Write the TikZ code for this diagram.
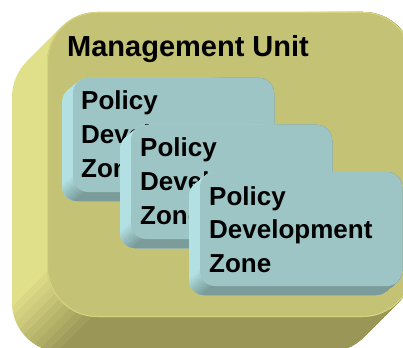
\documentclass[tikz,border=0pt]{standalone}
\usepackage{fontspec}
\setmainfont{Liberation Sans}
\definecolor{oliveF}{HTML}{C4C274}
\definecolor{oliveL}{HTML}{E1E08A}
\definecolor{oliveD}{HTML}{9A9657}
\definecolor{tealF}{HTML}{9DC5C5}
\definecolor{tealL}{HTML}{B3E1E3}
\definecolor{tealD}{HTML}{7B9C9B}
\tikzset{
  titletext/.style={anchor=base west, inner sep=0pt, font=\fontsize{29}{31}\selectfont\bfseries},
  zonetext/.style={anchor=base west, inner sep=0pt, font=\fontsize{26}{30}\selectfont\bfseries}
}
% #1 x1, #2 y1, #3 x2, #4 y2, #5 radius, #6 dx, #7 dy ; colours extL, extD, extF
\newcommand\sweepfill[8]{%
  \foreach \i in {0,...,20}{%
    \fill[#8, rounded corners=#5, shift={({\i/20*(#6)},{\i/20*(#7)})}] (#1,#2) rectangle (#3,#4);
  }%
}
\newcommand\extbox[7]{%
  \pgfmathsetmacro\ecx{#1+#5}%
  \pgfmathsetmacro\ecy{#4-#5}%
  \pgfmathsetmacro\dlen{sqrt((#6)*(#6)+(#7)*(#7))}%
  \pgfmathsetmacro\ux{(#6)/\dlen}%
  \pgfmathsetmacro\uy{(#7)/\dlen}%
  \pgfmathsetmacro\mx{\uy}%
  \pgfmathsetmacro\my{-\ux}%
  \pgfmathsetmacro\hw{0.7071*#5}%
  \sweepfill{#1}{#2}{#3}{#4}{#5}{#6}{#7}{extL}%
  \foreach \k in {1,...,10}{%
    \pgfmathsetmacro\s{-\hw+2*\hw*(\k-0.5)/10}%
    \pgfmathtruncatemacro\pc{\k*10}%
    \pgfmathsetmacro\qx{\ecx+\s*\mx}%
    \pgfmathsetmacro\qy{\ecy+\s*\my}%
    \begin{scope}
      \clip ({\qx+1500*\ux},{\qy+1500*\uy}) -- ({\qx-1500*\ux},{\qy-1500*\uy})
        -- ({\qx-1500*\ux+1500*\mx},{\qy-1500*\uy+1500*\my})
        -- ({\qx+1500*\ux+1500*\mx},{\qy+1500*\uy+1500*\my}) -- cycle;
      \sweepfill{#1}{#2}{#3}{#4}{#5}{#6}{#7}{extD!\pc!extL}
    \end{scope}
  }%
  \fill[extF, rounded corners=#5] (#1,#2) rectangle (#3,#4);
}
\begin{document}
\begin{tikzpicture}[x=1pt,y=-1pt]
  \useasboundingbox (0,0) rectangle (403,347);
  \clip (0,0) rectangle (403,347);
  % outer management unit block
  \colorlet{extL}{oliveL}\colorlet{extD}{oliveD}\colorlet{extF}{oliveF}
  \extbox{47}{12}{413}{317}{50}{-35}{35}
  \draw[oliveL!60!oliveF, line width=1pt, rounded corners=50] (47.5,12.5) rectangle (412.5,316.5);
  \node[titletext] (title) at (67,57) {Management Unit};
  % zone boxes
  \colorlet{extL}{tealL}\colorlet{extD}{tealD}\colorlet{extF}{tealF}
  \extbox{73}{78}{274}{192}{15}{-11}{9}
  \node[zonetext] (z1a) at (81,110) {Policy};
  \node[zonetext] (z1b) at (81,143.5) {Development};
  \node[zonetext] (z1c) at (81,177) {Zone};
  \extbox{131}{125}{332}{239}{15}{-11}{9}
  \node[zonetext] (z2a) at (140,157) {Policy};
  \node[zonetext] (z2b) at (140,190.5) {Development};
  \node[zonetext] (z2c) at (140,224) {Zone};
  \extbox{200}{172}{402}{286}{15}{-11}{9}
  \node[zonetext] (z3a) at (209,205) {Policy};
  \node[zonetext] (z3b) at (209,238.5) {Development};
  \node[zonetext] (z3c) at (209,272) {Zone};
\end{tikzpicture}
\end{document}
